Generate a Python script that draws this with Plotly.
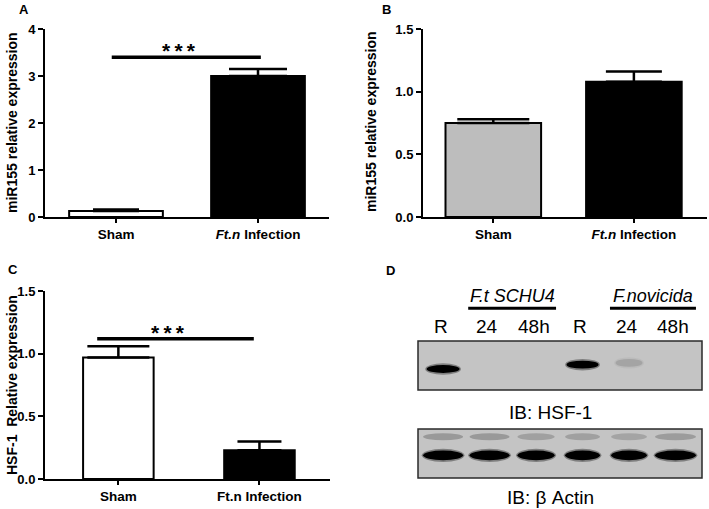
import plotly.graph_objects as go

# ---- data ----
groups = ['Sham', 'Ft.n Infection']

a_vals = [0.13, 3.0]
a_err = [0.03, 0.15]
a_colors = ['white', 'black']
a_sig = [-0.03, 1.02, 3.4]   # x0, x1, y

b_vals = [0.75, 1.08]
b_err = [0.03, 0.08]
b_colors = ['#bdbdbd', 'black']

c_vals = [0.97, 0.23]
c_err = [0.09, 0.07]
c_colors = ['white', 'black']
c_sig = [-0.15, 0.96, 1.12]

# western blot (panel D)
lanes = [1, 2, 3, 4, 5, 6]
lane_labels = ['R', '24', '48h', 'R', '24', '48h']
hsf1_intensity = [1.0, 0.0, 0.0, 1.0, 0.12, 0.0]
hsf1_width = [0.71, 0, 0, 0.69, 0.58, 0]
hsf1_offset = [0.04, 0, 0, -0.01, -0.03, 0]
actin_intensity = [1.0, 1.0, 1.0, 1.0, 1.0, 1.0]
actin_width = [0.86, 0.86, 0.80, 0.75, 0.77, 0.88]
actin_upper = [0.22, 0.22, 0.18, 0.18, 0.16, 0.2]

fnt = 'Liberation Sans, Arial, sans-serif'
W, H = 709, 509


def fx(p):
    return p / W


def fy(p):
    return 1 - p / H


fig = go.Figure()


def bar_panel(xa, ya, vals, errs, colors, widths, caps):
    for i in range(len(vals)):
        fig.add_trace(go.Bar(
            x=[i], y=[vals[i]], width=widths,
            marker=dict(color=colors[i], line=dict(color='black', width=2)),
            error_y=dict(type='data', array=[errs[i]], arrayminus=[0], symmetric=False,
                         thickness=2.5, width=caps[i], color='black'),
            xaxis=xa, yaxis=ya, showlegend=False))


bar_panel('x', 'y', a_vals, a_err, a_colors, 0.66, [23, 29])
bar_panel('x2', 'y2', b_vals, b_err, b_colors, 0.68, [36, 28])
bar_panel('x3', 'y3', c_vals, c_err, c_colors, 0.5, [31, 22])

# significance bars
for xa, ya, sig in [('x', 'y', a_sig), ('x3', 'y3', c_sig)]:
    fig.add_trace(go.Scatter(x=sig[:2], y=[sig[2], sig[2]], mode='lines',
                             line=dict(color='black', width=3.5),
                             xaxis=xa, yaxis=ya, showlegend=False, hoverinfo='skip'))

star_font = dict(size=21, family=fnt, weight='bold', color='black')
stars = '*\u2009*\u2009*'
fig.add_annotation(x=(a_sig[0] + a_sig[1]) / 2 - 0.05, y=a_sig[2], xref='x', yref='y', text=stars,
                   showarrow=False, yanchor='bottom', yshift=-7, font=star_font)
fig.add_annotation(x=(c_sig[0] + c_sig[1]) / 2 - 0.05, y=c_sig[2], xref='x3', yref='y3', text=stars,
                   showarrow=False, yanchor='bottom', yshift=-7, font=star_font)

# blot frames
for yc in [0, 1]:
    fig.add_shape(type='rect', xref='x4 domain', yref='y4', x0=0, x1=1, y0=yc - 0.278, y1=yc + 0.278,
                  fillcolor='#c4c4c4', line=dict(color='#2a2a2a', width=1.5), layer='below')

# blot bands
for i, ln in enumerate(lanes):
    if hsf1_intensity[i] > 0:
        w = hsf1_width[i] / 2
        yc = hsf1_offset[i]
        fig.add_shape(type='circle', xref='x4', yref='y4', x0=ln - w - 0.03, x1=ln + w + 0.03,
                      y0=yc - 0.065, y1=yc + 0.065, fillcolor='black', opacity=0.35 * hsf1_intensity[i],
                      line_width=0)
        fig.add_shape(type='circle', xref='x4', yref='y4', x0=ln - w, x1=ln + w,
                      y0=yc - 0.045, y1=yc + 0.045, fillcolor='black', opacity=hsf1_intensity[i],
                      line_width=0)
    w = actin_width[i] / 2
    fig.add_shape(type='circle', xref='x4', yref='y4', x0=ln - w, x1=ln + w,
                  y0=0.81 - 0.04, y1=0.81 + 0.04, fillcolor='black', opacity=actin_upper[i], line_width=0)
    fig.add_shape(type='circle', xref='x4', yref='y4', x0=ln - w - 0.03, x1=ln + w + 0.03,
                  y0=1.02 - 0.075, y1=1.02 + 0.075, fillcolor='black', opacity=0.35, line_width=0)
    fig.add_shape(type='circle', xref='x4', yref='y4', x0=ln - w, x1=ln + w,
                  y0=1.02 - 0.055, y1=1.02 + 0.055, fillcolor='black', opacity=actin_intensity[i], line_width=0)

# blot labels
for ln, lab in zip(lanes, lane_labels):
    fig.add_annotation(x=ln - 0.05, y=-0.44, xref='x4', yref='y4', text=lab, showarrow=False,
                       xanchor='center', yanchor='middle', font=dict(size=19, family=fnt, color='black'))
for x0, x1, lab in [(1.54, 3.43, '<i>F.t SCHU4</i>'), (4.59, 6.44, '<i>F.novicida</i>')]:
    fig.add_shape(type='line', xref='x4', yref='y4', x0=x0, x1=x1, y0=-0.65, y1=-0.65,
                  line=dict(color='black', width=3))
    fig.add_annotation(x=(x0 + x1) / 2, y=-0.65, xref='x4', yref='y4', text=lab, showarrow=False,
                       xanchor='center', yanchor='bottom', font=dict(size=18, family=fnt, color='black'))
fig.add_annotation(x=3.3, y=0.53, xref='x4', yref='y4', text='IB: HSF-1', showarrow=False,
                   xanchor='center', yanchor='middle', font=dict(size=19, family=fnt, color='black'))
fig.add_annotation(x=3.3, y=1.5, xref='x4', yref='y4', text='IB: \u03b2 Actin', showarrow=False,
                   xanchor='center', yanchor='middle', font=dict(size=19, family=fnt, color='black'))

# panel letters
for px_, py_, lab in [(24, 10, 'A'), (386, 10, 'B'), (13, 269, 'C'), (390, 270, 'D')]:
    fig.add_annotation(x=fx(px_), y=fy(py_), xref='paper', yref='paper', text=lab,
                       xanchor='center', yanchor='middle', showarrow=False,
                       font=dict(size=13, family=fnt, weight='bold', color='black'))

# y titles
for px_, py_, lab in [(12, 123, 'miR155 relative expression'), (371, 122, 'miR155 relative expression'),
                      (12, 385, 'HSF-1  Relative expression')]:
    fig.add_annotation(x=fx(px_), y=fy(py_), xref='paper', yref='paper', text=lab, textangle=-90,
                       xanchor='center', yanchor='middle', showarrow=False,
                       font=dict(size=14, family=fnt, weight='bold', color='black'))

ax_common = dict(showline=True, linecolor='black', linewidth=2, ticks='outside', tickcolor='black',
                 showgrid=False, zeroline=False, automargin=False)
tf = dict(size=13, family=fnt, weight='bold', color='black')      # y tick labels
xtf = dict(size=13.5, family=fnt, weight='bold', color='black')   # category labels
xt = dict(tickmode='array', tickvals=[0, 1], ticklen=4, tickwidth=1.5, tickfont=xtf)

fig.update_layout(
    width=W, height=H, margin=dict(l=0, r=0, t=0, b=0, autoexpand=False),
    plot_bgcolor='white', paper_bgcolor='white', barmode='overlay',
    xaxis=dict(domain=[fx(45), fx(329)], range=[-0.5, 1.5], anchor='y',
               ticktext=['Sham', '<i>Ft.n</i> Infection'], **xt, **ax_common),
    yaxis=dict(domain=[fy(217), fy(29)], range=[0, 4], anchor='x', tickvals=[0, 1, 2, 3, 4],
               ticklen=5, tickwidth=2, tickfont=tf, **ax_common),
    xaxis2=dict(domain=[fx(423), fx(707)], range=[-0.5, 1.52], anchor='y2',
                ticktext=['Sham', '<i>Ft.n</i> Infection'], **xt, **ax_common),
    yaxis2=dict(domain=[fy(217), fy(29)], range=[0, 1.5], anchor='x2', tickfont=tf,
                tickvals=[0, 0.5, 1.0, 1.5], tickformat='.1f', ticklen=5, tickwidth=2, **ax_common),
    xaxis3=dict(domain=[fx(45), fx(330)], range=[-0.52, 1.5], anchor='y3',
                ticktext=['Sham', 'Ft.n Infection'], **xt, **ax_common),
    yaxis3=dict(domain=[fy(479), fy(291)], range=[0, 1.5], anchor='x3', tickfont=tf,
                tickvals=[0, 0.5, 1.0, 1.5], tickformat='.1f', ticklen=5, tickwidth=2, **ax_common),
    xaxis4=dict(domain=[fx(418), fx(702)], range=[0.46, 6.57], anchor='y4', visible=False),
    yaxis4=dict(domain=[fy(509), fy(285)], range=[1.63, -0.915], anchor='x4', visible=False),
)

# drop the default page margin so the figure sits at the window's top-left corner
fig.write_html('out.html', config={'displayModeBar': False},
               post_script="document.body.style.margin='0';")
